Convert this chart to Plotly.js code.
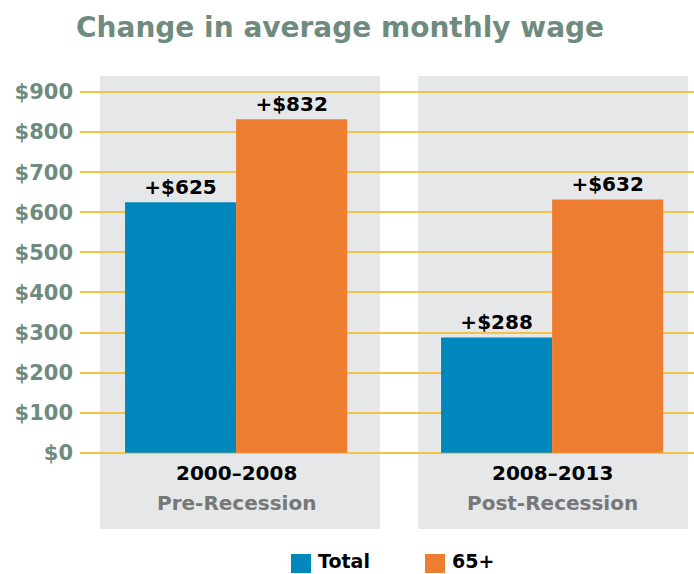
<!DOCTYPE html>
<html>
<head>
<meta charset="utf-8">
<script src="https://cdn.plot.ly/plotly-3.0.1.min.js"></script>
<style>
  html, body { margin: 0; padding: 0; background: #fff; }
  #chart { width: 694px; height: 574px; }
</style>
</head>
<body>
<div id="chart"></div>
<script>
const periods = ['2000–2008', '2008–2013'];
const periodNotes = ['Pre-Recession', 'Post-Recession'];
const seriesNames = ['Total', '65+'];
const totalChange = [625, 288];
const olderChange = [832, 632];
const tickValues = [0, 100, 200, 300, 400, 500, 600, 700, 800, 900];

const FONT = 'DejaVu Sans, sans-serif';
const GREEN_GRAY = '#6E8B7E';
const COLORS = ['#0088BC', '#ED7D31'];

// plot area in pixels, used to place the hand-made legend
const W = 694, H = 574;
const M = { l: 80, r: 0, t: 76, b: 45 };
const pw = W - M.l - M.r, ph = H - M.t - M.b;
const px = (x) => (x - M.l) / pw;
const py = (y) => (H - M.b - y) / ph;

const labelText = (v) => '<b>+$' + v + '</b>';

const traces = [totalChange, olderChange].map((vals, i) => ({
  type: 'bar',
  name: seriesNames[i],
  x: periods,
  y: vals,
  marker: { color: COLORS[i] },
  text: vals.map(labelText),
  textposition: 'outside',
  cliponaxis: false,
  textfont: { family: FONT, size: 20, color: '#000' },
  hoverinfo: 'none',
}));

// gray panels behind each period, running down over the labels
const panels = [
  [-0.431, 0.455],
  [0.576, 1.43],
].map(([x0, x1]) => ({
  type: 'rect',
  xref: 'x',
  yref: 'paper',
  x0: x0,
  x1: x1,
  y0: 0,
  y1: 1,
  fillcolor: '#E6E7E9',
  line: { width: 0 },
  layer: 'below',
}));

const annotations = [];
periods.forEach((p, i) => {
  annotations.push({
    x: p,
    y: -50,
    xref: 'x',
    yref: 'y',
    text: '<b>' + p + '</b>',
    showarrow: false,
    font: { family: FONT, size: 20, color: '#000' },
  });
  annotations.push({
    x: p,
    y: -125,
    xref: 'x',
    yref: 'y',
    text: '<b>' + periodNotes[i] + '</b>',
    showarrow: false,
    font: { family: FONT, size: 20, color: '#777777' },
  });
});

// legend: colour squares and names below the plot
const legendSquares = [291, 425];
const legendText = [317, 451];
const legendShapes = legendSquares.map((x, i) => ({
  type: 'rect',
  xref: 'paper',
  yref: 'paper',
  x0: px(x),
  x1: px(x + 20),
  y0: py(573),
  y1: py(554),
  fillcolor: COLORS[i],
  line: { width: 0 },
}));
seriesNames.forEach((name, i) => {
  annotations.push({
    xref: 'paper',
    yref: 'paper',
    x: px(legendText[i]),
    y: py(561),
    xanchor: 'left',
    yanchor: 'middle',
    borderpad: 0,
    text: '<b>' + name + '</b>',
    showarrow: false,
    font: { family: FONT, size: 19, color: '#000' },
  });
});

const layout = {
  width: W,
  height: H,
  margin: M,
  paper_bgcolor: '#fff',
  plot_bgcolor: 'rgba(0,0,0,0)',
  title: {
    text: '<b>Change in average monthly wage</b>',
    x: 0.49,
    xanchor: 'center',
    y: 0.952,
    yanchor: 'middle',
    font: { family: FONT, size: 28, color: GREEN_GRAY },
  },
  barmode: 'group',
  bargap: 0.297,
  bargroupgap: 0,
  showlegend: false,
  xaxis: {
    type: 'category',
    range: [-0.494, 1.449],
    showticklabels: false,
    showgrid: false,
    zeroline: false,
    showline: false,
  },
  yaxis: {
    range: [-190, 940],
    tickvals: tickValues,
    ticktext: tickValues.map((v) => '<b>$' + v + '</b>'),
    tickfont: { family: FONT, size: 21, color: GREEN_GRAY },
    showgrid: true,
    gridcolor: '#F2C443',
    gridwidth: 2,
    zeroline: false,
    showline: false,
    ticks: '',
    ticklabelstandoff: 6,
  },
  shapes: panels.concat(legendShapes),
  annotations: annotations,
};

Plotly.newPlot('chart', traces, layout, { staticPlot: true });
</script>
</body>
</html>
